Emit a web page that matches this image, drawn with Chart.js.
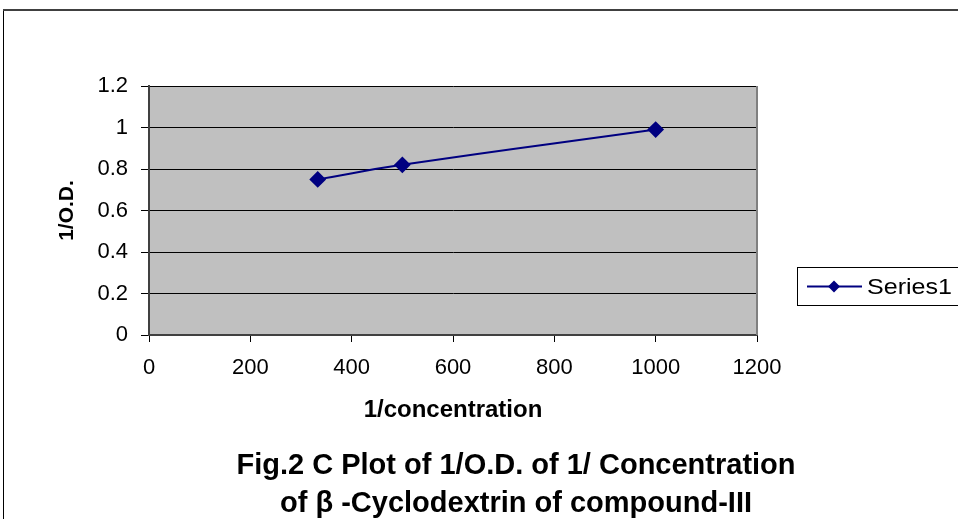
<!DOCTYPE html>
<html>
<head>
<meta charset="utf-8">
<script src="https://cdn.jsdelivr.net/npm/chart.js@4"></script>
<style>
  html, body { margin: 0; padding: 0; background: #fff; }
  #wrap { width: 958px; height: 519px; }
</style>
</head>
<body>
<div id="wrap"><canvas id="chart1"></canvas></div>
<script>
'use strict';

var xValues = [333, 500, 1000];
var yValues = [0.75, 0.82, 0.99];
var seriesName = 'Series1';
var xTitle = '1/concentration';
var yTitle = '1/O.D.';
var titleLines = ['Fig.2 C Plot of 1/O.D. of 1/ Concentration', 'of \u03b2 -Cyclodextrin of compound-III'];

var NAVY = '#000080';
var FONT = '"Liberation Sans", Arial, sans-serif';

// text in the source picture is stretched sideways a little
function wideText(ctx, text, x, y, stretch) {
  ctx.save();
  ctx.translate(x, y);
  ctx.scale(stretch, 1);
  ctx.fillText(text, 0, 0);
  ctx.restore();
}

// frame, grey plot area, legend box and the figure caption
var excelLook = {
  id: 'excelLook',
  beforeDraw: function (chart) {
    var ctx = chart.ctx;
    var a = chart.chartArea;
    ctx.save();
    ctx.fillStyle = '#c0c0c0';
    ctx.fillRect(a.left, a.top, a.right - a.left, a.bottom - a.top);
    ctx.restore();
  },
  afterDraw: function (chart) {
    var ctx = chart.ctx;
    var a = chart.chartArea;
    ctx.save();
    // outer frame
    ctx.strokeStyle = '#000';
    ctx.lineWidth = 1;
    ctx.beginPath();
    ctx.moveTo(3.5, 519);
    ctx.lineTo(3.5, 10);
    ctx.stroke();
    ctx.strokeStyle = '#404040';
    ctx.lineWidth = 2;
    ctx.beginPath();
    ctx.moveTo(3, 10);
    ctx.lineTo(958, 10);
    ctx.stroke();
    // right edge of plot area
    ctx.strokeStyle = '#808080';
    ctx.lineWidth = 2;
    ctx.beginPath();
    ctx.moveTo(a.right, a.top);
    ctx.lineTo(a.right, a.bottom);
    ctx.stroke();

    // legend
    var bx = 797.5, by = 267.5, bw = 175, bh = 38;
    ctx.strokeStyle = '#000';
    ctx.lineWidth = 1;
    ctx.strokeRect(bx, by, bw, bh);
    var cy = by + bh / 2;
    ctx.strokeStyle = NAVY;
    ctx.lineWidth = 2;
    ctx.beginPath();
    ctx.moveTo(807, cy);
    ctx.lineTo(862, cy);
    ctx.stroke();
    ctx.fillStyle = NAVY;
    ctx.beginPath();
    ctx.moveTo(834, cy - 6);
    ctx.lineTo(840, cy);
    ctx.lineTo(834, cy + 6);
    ctx.lineTo(828, cy);
    ctx.closePath();
    ctx.fill();
    ctx.fillStyle = '#000';
    ctx.font = '22px ' + FONT;
    ctx.textBaseline = 'middle';
    ctx.textAlign = 'left';
    wideText(ctx, seriesName, 867, cy + 1, 1.14);

    // caption
    ctx.font = 'bold 29px ' + FONT;
    ctx.textAlign = 'center';
    wideText(ctx, titleLines[0], 516, 466, 1.0);
    wideText(ctx, titleLines[1], 516, 504, 1.0);
    ctx.restore();
  }
};

var ctx = document.getElementById('chart1').getContext('2d');
var myChart1 = new Chart(ctx, {
  type: 'line',
  plugins: [excelLook],
  data: {
    datasets: [
      {
        label: seriesName,
        data: xValues.map(function (x, i) { return { x: x, y: yValues[i] }; }),
        borderColor: NAVY,
        backgroundColor: NAVY,
        borderWidth: 2,
        tension: 0.5,
        pointStyle: 'rectRot',
        pointRadius: 7,
        pointHoverRadius: 7,
        pointBackgroundColor: NAVY,
        pointBorderColor: NAVY,
        fill: false,
      },
    ],
  },
  options: {
    responsive: true,
    maintainAspectRatio: false,
    animation: false,
    layout: {
      padding: { top: 86, right: 201, bottom: 94, left: 55 },
    },
    plugins: {
      legend: { display: false },
      tooltip: { enabled: false },
      title: { display: false },
    },
    scales: {
      x: {
        type: 'linear',
        min: 0,
        max: 1200,
        afterFit: function (s) { s.height = 90; },
        ticks: {
          stepSize: 200,
          color: '#000',
          padding: 13,
          font: { family: FONT, size: 22 },
          maxRotation: 0,
          callback: function (v) { return String(v); },
        },
        grid: {
          drawOnChartArea: false,
          drawTicks: true,
          tickLength: 7,
          color: '#000',
        },
        border: { color: '#404040', width: 2 },
        title: {
          display: true,
          text: xTitle,
          color: '#000',
          font: { family: FONT, size: 24, weight: 'bold', lineHeight: 1.2 },
          padding: { top: 0, bottom: 0 },
        },
      },
      y: {
        min: 0,
        max: 1.2,
        afterFit: function (s) { s.width = 94; },
        ticks: {
          stepSize: 0.2,
          color: '#000',
          padding: 13,
          font: { family: FONT, size: 22 },
          callback: function (v) { return String(Math.round(v * 10) / 10); },
        },
        grid: {
          color: '#000',
          lineWidth: 1,
          drawTicks: true,
          tickLength: 8,
        },
        border: { color: '#404040', width: 2 },
        title: {
          display: true,
          text: yTitle,
          color: '#000',
          font: { family: FONT, size: 21, weight: 'bold', lineHeight: 1.2 },
          padding: { top: 0, bottom: 0 },
        },
      },
    },
  },
});
</script>
</body>
</html>
